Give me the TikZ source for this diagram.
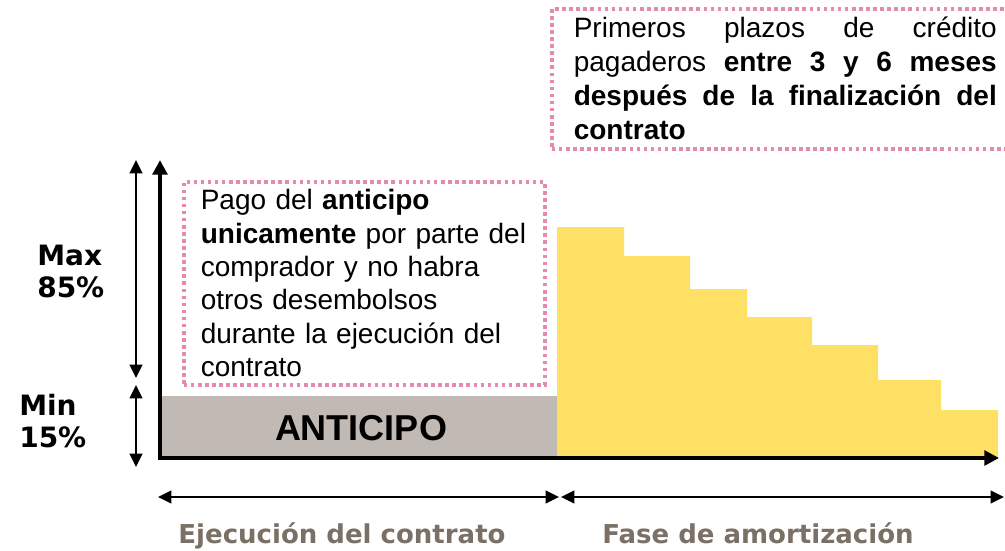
\documentclass[tikz,border=0pt]{standalone}
\usepackage{fontspec}
\setmainfont{Liberation Sans}
\newfontfamily\verdfont{DejaVu Sans}
\usepackage{tikz}
\usetikzlibrary{positioning, arrows.meta}

\definecolor{notepink}{HTML}{E38AAE}
\definecolor{anticipogray}{HTML}{C1B9B4}
\definecolor{amortyellow}{HTML}{FDE064}
\definecolor{phasebrown}{HTML}{7B7065}

\begin{document}
\begin{tikzpicture}[x=0.75pt, y=-0.75pt,
    axisline/.style={line width=3pt, line join=miter,
      {Triangle[length=11pt, width=11pt]}-{Triangle[length=11pt, width=11pt]}},
    spanarrow/.style={line width=1.6pt,
      {Triangle[length=10pt, width=9.5pt]}-{Triangle[length=10pt, width=9.5pt]}},
    notebox/.style={draw=notepink, line width=2.7pt, dash pattern=on 2.7pt off 2.6pt,
      font=\fontsize{21}{25}\selectfont, align=left, inner ysep=0pt},
    sidelabel/.style={font=\verdfont\bfseries\fontsize{21}{24}\selectfont, align=left, inner sep=0pt},
    phaselabel/.style={font=\verdfont\bfseries\fontsize{19.5}{24}\selectfont, text=phasebrown,
      inner sep=0pt, anchor=base}]

\useasboundingbox (0,0) rectangle (1005,550);

% bars
\fill[anticipogray] (160,396) rectangle (557,458);
\fill[amortyellow] (557,458) |- (624,227) |- (690,256) |- (747,289) |- (812,317)
  |- (878,345) |- (941,380) |- (998,410) -- (998,458) -- cycle;
\node[font=\bfseries\fontsize{27}{30}\selectfont] (anticipo) at (361,428) {ANTICIPO};

% axes
\coordinate (ytop) at (160,160);
\coordinate (origin) at (160,458);
\coordinate (xend) at (999,458);
\draw[axisline] (ytop) -- (origin) -- (xend);

% side spans
\coordinate (maxtop) at (136,160);
\coordinate (maxbot) at (136,378);
\coordinate (mintop) at (136,385);
\coordinate (minbot) at (136,467);
\draw[spanarrow] (maxtop) -- (maxbot);
\draw[spanarrow] (mintop) -- (minbot);
\node[sidelabel, anchor=west] (maxlabel) at (37,271) {Max\\85\%};
\node[sidelabel, anchor=west] (minlabel) at (19,421) {Min\\15\%};

% notes
\node[notebox, anchor=north west, text width=245.25pt, inner xsep=12.75pt,
  minimum height=152.25pt] (pagonote) at (182,180)
  {Pago del \textbf{anticipo}\\
   \textbf{unicamente} por parte del\\
   comprador y no habra\\
   otros desembolsos\\
   durante la ejecución del\\
   contrato};
\node[notebox, anchor=north west, text width=317.25pt, inner xsep=16.5pt,
  minimum height=105pt, font=\fontsize{21}{25.5}\selectfont] (plazosnote) at (550,7)
  {Primeros\hfill plazos\hfill de\hfill crédito\\
   pagaderos\hfill \textbf{entre\hfill 3\hfill y\hfill 6\hfill meses}\\
   \textbf{después\hfill de\hfill la\hfill finalización\hfill del}\\
   \textbf{contrato}};

% phases
\coordinate (ejecleft) at (158,497);
\coordinate (ejecright) at (559,497);
\coordinate (faseleft) at (561,497);
\coordinate (faseright) at (1004,497);
\draw[spanarrow] (ejecleft) -- (ejecright);
\draw[spanarrow] (faseleft) -- (faseright);
\node[phaselabel] (ejecucion) at (342,543.5) {Ejecución del contrato};
\node[phaselabel] (amortizacion) at (758,543) {Fase de amortización};
\end{tikzpicture}
\end{document}
